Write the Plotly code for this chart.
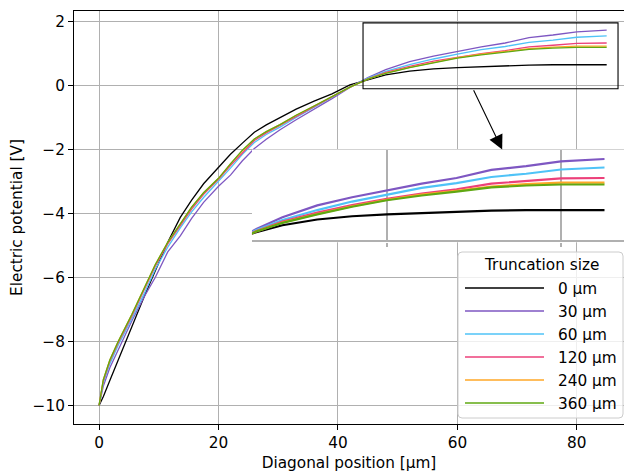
import plotly.graph_objects as go

# Diagonal position [µm]
x_pos = [0, 0.7, 1.8, 3.2, 5.5, 7.7, 9.4, 11.5, 13.6, 15.5, 17.5, 20, 22, 24, 26, 28,
         30.3, 33, 36, 39, 42, 45, 48, 52, 56, 60, 64, 68, 72, 76, 80, 85]

v_0um = [-10, -9.73, -9.22, -8.58, -7.5, -6.53, -5.8, -4.9, -4.12, -3.58, -3.07, -2.54,
         -2.15, -1.8, -1.46, -1.23, -1.01, -0.74, -0.49, -0.26, 0.02, 0.18, 0.33, 0.45,
         0.52, 0.56, 0.59, 0.62, 0.64, 0.65, 0.65, 0.65]
v_30um = [-10, -9.4, -8.82, -8.25, -7.35, -6.55, -6.0, -5.2, -4.7, -4.15, -3.65, -3.15,
          -2.8, -2.35, -1.97, -1.68, -1.38, -1.07, -0.75, -0.41, -0.06, 0.25, 0.5, 0.75,
          0.92, 1.07, 1.21, 1.33, 1.5, 1.58, 1.68, 1.73]
v_60um = [-10, -9.3, -8.7, -8.12, -7.28, -6.45, -5.75, -5.05, -4.45, -3.95, -3.5, -3.0,
          -2.58, -2.15, -1.78, -1.53, -1.3, -1.0, -0.69, -0.38, -0.05, 0.23, 0.44, 0.65,
          0.83, 0.98, 1.12, 1.22, 1.35, 1.42, 1.51, 1.55]
v_120um = [-10, -9.25, -8.62, -8.05, -7.2, -6.35, -5.65, -4.95, -4.36, -3.86, -3.4, -2.93,
           -2.5, -2.1, -1.72, -1.48, -1.25, -0.96, -0.66, -0.36, -0.05, 0.21, 0.41, 0.6,
           0.76, 0.89, 1.0, 1.09, 1.21, 1.26, 1.32, 1.33]
v_240um = [-10, -9.2, -8.58, -8.0, -7.15, -6.3, -5.6, -4.9, -4.3, -3.8, -3.35, -2.9,
           -2.45, -2.04, -1.67, -1.44, -1.22, -0.93, -0.64, -0.35, -0.05, 0.2, 0.39, 0.57,
           0.73, 0.87, 0.98, 1.06, 1.15, 1.2, 1.23, 1.23]
v_360um = [-10, -9.2, -8.58, -8.0, -7.15, -6.3, -5.6, -4.9, -4.3, -3.8, -3.35, -2.9,
           -2.45, -2.02, -1.67, -1.44, -1.22, -0.93, -0.64, -0.35, -0.05, 0.2, 0.38, 0.56,
           0.72, 0.86, 0.96, 1.04, 1.13, 1.17, 1.19, 1.19]

series_names = ["0 µm", "30 µm", "60 µm", "120 µm", "240 µm", "360 µm"]
series_values = [v_0um, v_30um, v_60um, v_120um, v_240um, v_360um]
series_colors = ["#000000", "#7E57C2", "#4FC3F7", "#EC407A", "#FFA726", "#5FA812"]

x_ticks = [0, 20, 40, 60, 80]
x_tick_labels = ["0", "20", "40", "60", "80"]
y_ticks = [-10, -8, -6, -4, -2, 0, 2]
y_tick_labels = ["\u221210", "\u22128", "\u22126", "\u22124", "\u22122", "0", "2"]

FONT = "DejaVu Sans"
FS = 15.3
GRID = "#b0b0b0"

W, H = 624, 474
ML, MR, MT, MB = 74, 0, 11, 50
PW, PH = W - ML - MR, H - MT - MB


def px(xp):
    return (xp - ML) / PW


def py(yp):
    return (H - MB - yp) / PH


fig = go.Figure()

for name, vals, col in zip(series_names, series_values, series_colors):
    fig.add_trace(go.Scatter(x=x_pos, y=vals, mode="lines", name=name,
                             line=dict(color=col, width=1.3), showlegend=False,
                             xaxis="x", yaxis="y"))
for name, vals, col in zip(series_names, series_values, series_colors):
    fig.add_trace(go.Scatter(x=x_pos, y=vals, mode="lines", name=name,
                             line=dict(color=col, width=2.1), showlegend=False,
                             xaxis="x2", yaxis="y2"))

# zoom box on main axes
fig.add_shape(type="rect", xref="x", yref="y", x0=44.2, x1=86.9, y0=-0.1, y1=1.96,
              line=dict(color="black", width=1.1), layer="above")

fig.add_annotation(xref="x", yref="y", axref="x", ayref="y",
                   x=67.5, y=-2.0, ax=62.6, ay=-0.1, text="",
                   showarrow=True, arrowhead=2, arrowsize=2.6, arrowwidth=1.1,
                   arrowcolor="black")

# legend (drawn manually, matplotlib style)
lx0, lx1, ly0, ly1, r = 458, 623, 252, 418, 4
path = (f"M{px(lx0 + r)},{py(ly0)} L{px(lx1 - r)},{py(ly0)} "
        f"Q{px(lx1)},{py(ly0)} {px(lx1)},{py(ly0 + r)} "
        f"L{px(lx1)},{py(ly1 - r)} Q{px(lx1)},{py(ly1)} {px(lx1 - r)},{py(ly1)} "
        f"L{px(lx0 + r)},{py(ly1)} Q{px(lx0)},{py(ly1)} {px(lx0)},{py(ly1 - r)} "
        f"L{px(lx0)},{py(ly0 + r)} Q{px(lx0)},{py(ly0)} {px(lx0 + r)},{py(ly0)} Z")
fig.add_shape(type="path", xref="paper", yref="paper", path=path,
              fillcolor="rgba(255,255,255,0.8)", line=dict(color="#cccccc", width=1),
              layer="above")
fig.add_annotation(xref="paper", yref="paper", x=px(541), y=py(265),
                   text="Truncation size", showarrow=False,
                   xanchor="center", yanchor="middle", font=dict(size=FS))
row_y = [288, 311, 334, 357, 380, 403]
for name, col, yy in zip(series_names, series_colors, row_y):
    fig.add_shape(type="line", xref="paper", yref="paper",
                  x0=px(465), x1=px(544), y0=py(yy), y1=py(yy),
                  line=dict(color=col, width=1.5), layer="above")
    fig.add_annotation(xref="paper", yref="paper", x=px(556), y=py(yy + 1),
                       text=name, showarrow=False, xanchor="left", yanchor="middle",
                       font=dict(size=FS))

fig.update_layout(
    width=W, height=H,
    margin=dict(l=ML, r=MR, t=MT, b=MB),
    paper_bgcolor="white", plot_bgcolor="white",
    font=dict(family=FONT, size=FS, color="black"),
    showlegend=False,
    xaxis=dict(
        domain=[0, 1], range=[-4.2, 87.9], tickvals=x_ticks, ticktext=x_tick_labels,
        showgrid=True, gridcolor=GRID, gridwidth=1.1, zeroline=False,
        showline=True, linecolor="black", linewidth=1.1, mirror=True,
        ticks="outside", ticklen=5, tickwidth=1.1, tickcolor="black",
        title=dict(text="Diagonal position [µm]", standoff=5, font=dict(size=FS)),
        anchor="y",
    ),
    yaxis=dict(
        domain=[0, 1], range=[-10.58, 2.33], tickvals=y_ticks, ticktext=y_tick_labels,
        showgrid=True, gridcolor=GRID, gridwidth=1.1, zeroline=False,
        showline=True, linecolor="black", linewidth=1.1,
        ticks="outside", ticklen=5, tickwidth=1.1, tickcolor="black",
        title=dict(text="Electric potential [V]", standoff=6, font=dict(size=FS)),
        anchor="x",
    ),
    xaxis2=dict(
        domain=[0.3236, 1], range=[44.5, 87.24], tickvals=[60, 80],
        showticklabels=False, showgrid=True, gridcolor=GRID, gridwidth=1.5,
        zeroline=False, showline=False, ticks="outside", ticklen=4,
        tickcolor=GRID, tickwidth=1.5, anchor="y2",
    ),
    yaxis2=dict(
        domain=[0.44, 0.6645], range=[-0.03, 1.93], tickvals=[0],
        showticklabels=False, showgrid=True, gridcolor=GRID, gridwidth=1.5,
        zeroline=False, showline=False, ticks="", anchor="x2",
    ),
)

fig.write_html("out.html")
